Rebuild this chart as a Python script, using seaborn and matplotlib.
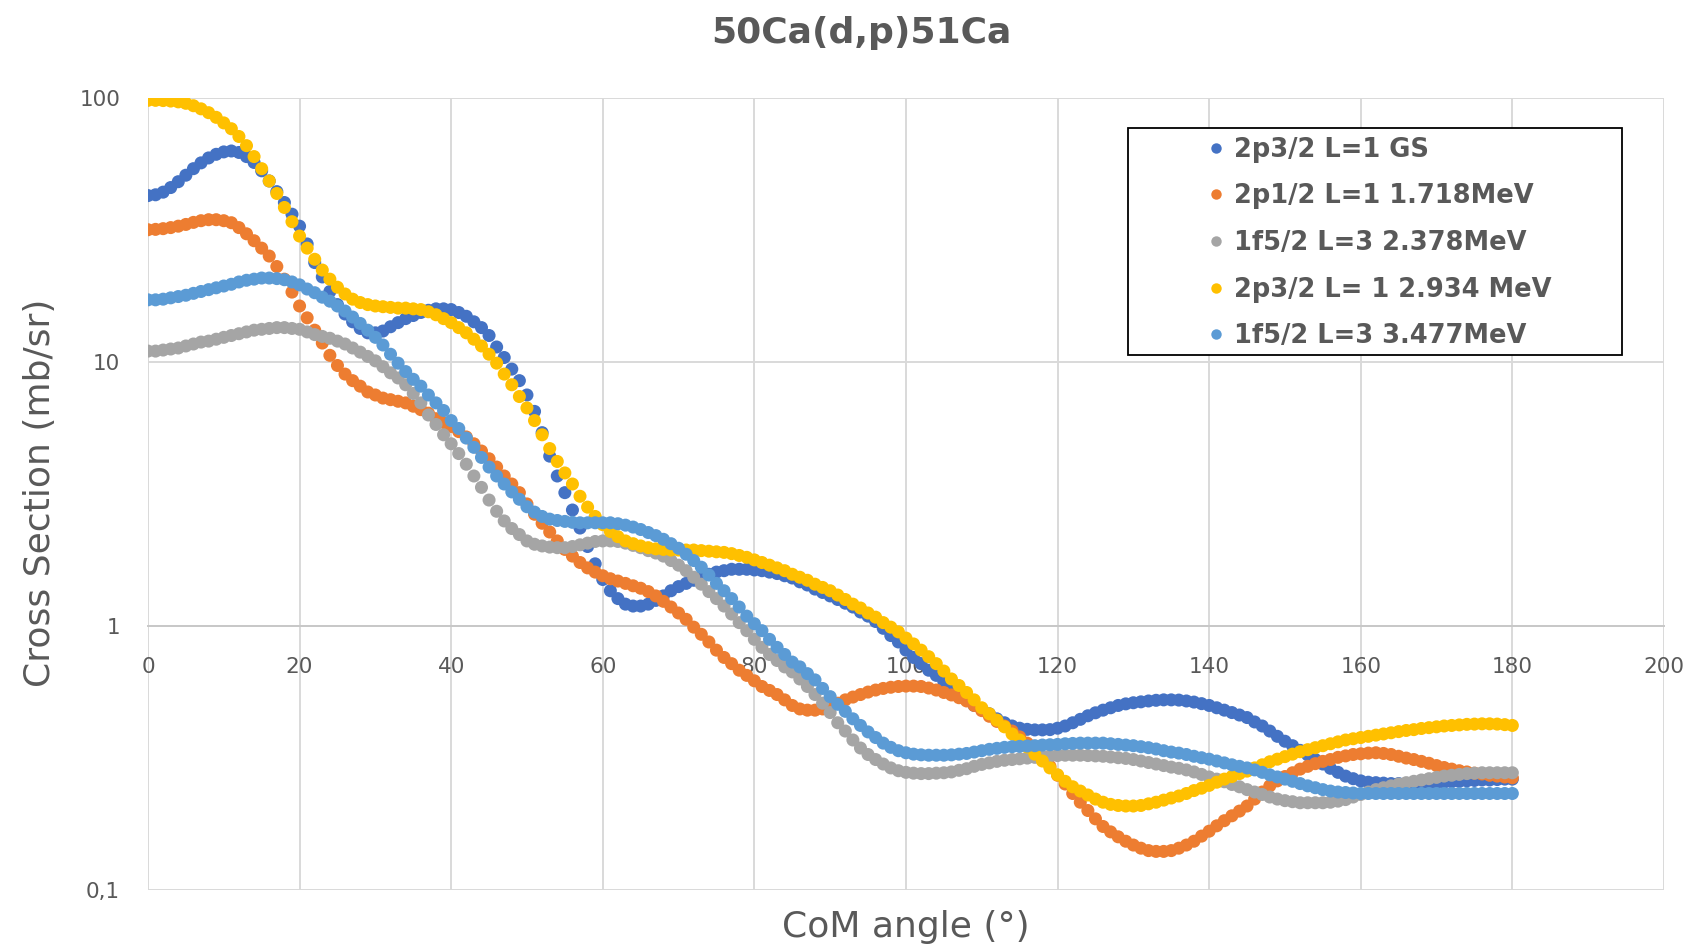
import matplotlib
matplotlib.use('Agg')

import numpy as np
import pandas as pd
import matplotlib.pyplot as plt
import seaborn as sns
from matplotlib.lines import Line2D
from matplotlib.patches import Rectangle
from matplotlib.ticker import FixedLocator, FixedFormatter, NullLocator


# CoM angle, one point per degree
angle = list(range(0, 181))

# 2p3/2 L=1 GS
gs_p32 = [
    42.7, 43.0, 44.0, 45.8, 48.2, 51.0, 54.0, 56.8, 59.3, 61.2,
    62.5, 63.0, 62.2, 60.0, 57.0, 53.0, 48.5, 44.2, 40.2, 36.3,
    32.7, 28.0, 23.8, 21.0, 18.5, 16.5, 15.2, 14.2, 13.4, 12.9,
    12.9, 13.1, 13.6, 14.1, 14.6, 15.0, 15.4, 15.7, 15.9, 15.9,
    15.8, 15.4, 14.9, 14.2, 13.5, 12.6, 11.4, 10.4, 9.4, 8.5,
    7.5, 6.5, 5.4, 4.4, 3.7, 3.2, 2.75, 2.35, 2.0, 1.72,
    1.5, 1.36, 1.27, 1.21, 1.19, 1.19, 1.21, 1.25, 1.30, 1.36,
    1.41, 1.45, 1.49, 1.53, 1.57, 1.60, 1.62, 1.64, 1.64, 1.64,
    1.63, 1.62, 1.60, 1.58, 1.55, 1.52, 1.47, 1.43, 1.38, 1.34,
    1.30, 1.26, 1.22, 1.18, 1.13, 1.09, 1.04, 0.98, 0.92, 0.87,
    0.81, 0.76, 0.72, 0.68, 0.65, 0.615, 0.585, 0.555, 0.525, 0.50,
    0.485, 0.465, 0.445, 0.43, 0.418, 0.41, 0.406, 0.404, 0.404, 0.405,
    0.41, 0.418, 0.43, 0.443, 0.457, 0.469, 0.48, 0.49, 0.50, 0.507,
    0.512, 0.516, 0.52, 0.523, 0.525, 0.525, 0.524, 0.52, 0.515, 0.508,
    0.50, 0.49, 0.48, 0.47, 0.46, 0.45, 0.433, 0.418, 0.40, 0.382,
    0.366, 0.352, 0.338, 0.325, 0.312, 0.30, 0.289, 0.279, 0.27, 0.264,
    0.259, 0.256, 0.255, 0.254, 0.253, 0.253, 0.253, 0.253, 0.254, 0.254,
    0.255, 0.256, 0.257, 0.258, 0.259, 0.26, 0.261, 0.261, 0.262, 0.263,
    0.263,
]

# 2p1/2 L=1 1.718MeV
p12_1718 = [
    31.7, 31.8, 32.0, 32.3, 32.7, 33.2, 33.8, 34.3, 34.6, 34.6,
    34.3, 33.7, 32.3, 30.6, 28.8, 27.0, 25.2, 23.0, 20.6, 18.4,
    16.3, 14.7, 13.2, 11.8, 10.6, 9.7, 9.0, 8.5, 8.1, 7.7,
    7.5, 7.3, 7.2, 7.1, 7.0, 6.8, 6.6, 6.4, 6.1, 5.9,
    5.7, 5.45, 5.2, 4.9, 4.6, 4.3, 4.0, 3.7, 3.45, 3.2,
    2.9, 2.65, 2.45, 2.27, 2.1, 1.95, 1.84, 1.74, 1.66, 1.6,
    1.55, 1.51, 1.48, 1.45, 1.42, 1.39, 1.35, 1.3, 1.24, 1.18,
    1.12, 1.06, 0.99, 0.93, 0.87, 0.81, 0.76, 0.72, 0.68, 0.65,
    0.62, 0.59, 0.57, 0.55, 0.525, 0.5, 0.485, 0.48, 0.48, 0.485,
    0.495, 0.51, 0.525, 0.538, 0.55, 0.562, 0.572, 0.58, 0.586, 0.59,
    0.592, 0.592, 0.59, 0.582, 0.572, 0.56, 0.548, 0.535, 0.52, 0.5,
    0.478, 0.455, 0.435, 0.418, 0.4, 0.38, 0.36, 0.34, 0.315, 0.294,
    0.272, 0.252, 0.232, 0.215, 0.2, 0.186, 0.174, 0.166, 0.159, 0.153,
    0.148, 0.144, 0.141, 0.14, 0.14, 0.141, 0.144, 0.148, 0.153, 0.16,
    0.167, 0.175, 0.183, 0.191, 0.199, 0.208, 0.221, 0.235, 0.248, 0.259,
    0.269, 0.278, 0.287, 0.294, 0.301, 0.307, 0.312, 0.318, 0.322, 0.326,
    0.328, 0.33, 0.331, 0.329, 0.326, 0.321, 0.316, 0.312, 0.307, 0.302,
    0.296, 0.291, 0.287, 0.283, 0.28, 0.277, 0.275, 0.272, 0.27, 0.268,
    0.266,
]

# 1f5/2 L=3 2.378MeV
f52_2378 = [
    11.0, 11.0, 11.1, 11.2, 11.3, 11.5, 11.7, 11.9, 12.0, 12.2,
    12.4, 12.6, 12.8, 13.0, 13.2, 13.3, 13.4, 13.5, 13.5, 13.4,
    13.3, 13.0, 12.7, 12.5, 12.3, 12.0, 11.7, 11.3, 10.9, 10.5,
    10.1, 9.6, 9.1, 8.7, 8.2, 7.6, 7.0, 6.3, 5.8, 5.3,
    4.9, 4.5, 4.1, 3.7, 3.35, 3.0, 2.72, 2.5, 2.34, 2.22,
    2.1, 2.04, 2.01, 1.99, 1.98, 1.98, 2.0, 2.03, 2.06, 2.09,
    2.1, 2.1, 2.09, 2.06, 2.02, 1.98, 1.93, 1.89, 1.84, 1.77,
    1.7, 1.62, 1.53, 1.44, 1.35, 1.27, 1.19, 1.11, 1.03, 0.96,
    0.89, 0.83, 0.78, 0.74, 0.7, 0.67, 0.63, 0.59, 0.55, 0.51,
    0.47, 0.43, 0.4, 0.37, 0.345, 0.326, 0.312, 0.3, 0.29, 0.283,
    0.279, 0.277, 0.276, 0.276, 0.277, 0.278, 0.28, 0.284, 0.288, 0.294,
    0.299, 0.303, 0.307, 0.31, 0.312, 0.314, 0.316, 0.318, 0.32, 0.322,
    0.323, 0.324, 0.324, 0.324, 0.323, 0.322, 0.321, 0.319, 0.317, 0.315,
    0.312, 0.308, 0.304, 0.3, 0.296, 0.292, 0.289, 0.285, 0.28, 0.274,
    0.268, 0.263, 0.257, 0.251, 0.246, 0.24, 0.235, 0.23, 0.225, 0.221,
    0.218, 0.216, 0.214, 0.214, 0.214, 0.214, 0.215, 0.217, 0.22, 0.225,
    0.23, 0.235, 0.24, 0.244, 0.248, 0.252, 0.255, 0.258, 0.261, 0.264,
    0.267, 0.27, 0.272, 0.274, 0.276, 0.277, 0.278, 0.278, 0.278, 0.278,
    0.278,
]

# 2p3/2 L= 1 2.934 MeV
p32_2934 = [
    98, 98, 97.8, 97.4, 96.7, 95.5, 93.5, 91, 88, 84.5,
    80.5, 76.5, 71.5, 66, 60, 54, 48.5, 43.5, 38.5, 34,
    30, 27, 24.5, 22.3, 20.6, 19.2, 18.1, 17.3, 16.8, 16.5,
    16.3, 16.2, 16.1, 16.0, 16.0, 15.9, 15.8, 15.5, 15.1, 14.6,
    14.1, 13.5, 12.9, 12.2, 11.5, 10.7, 9.9, 9.0, 8.2, 7.4,
    6.7, 6.0, 5.3, 4.7, 4.2, 3.8, 3.45, 3.1, 2.82, 2.6,
    2.42, 2.28, 2.18, 2.1, 2.05, 2.01, 1.98, 1.96, 1.95, 1.94,
    1.94, 1.94, 1.94, 1.93, 1.92, 1.91, 1.9, 1.88, 1.85, 1.82,
    1.78, 1.74, 1.7, 1.66, 1.62, 1.57, 1.53, 1.49, 1.44, 1.4,
    1.36, 1.31, 1.26, 1.21, 1.17, 1.12, 1.08, 1.03, 0.99, 0.95,
    0.9, 0.855, 0.81, 0.765, 0.72, 0.675, 0.63, 0.595, 0.56, 0.525,
    0.49, 0.465, 0.44, 0.415, 0.39, 0.37, 0.348, 0.327, 0.308, 0.29,
    0.273, 0.258, 0.246, 0.237, 0.229, 0.221, 0.215, 0.211, 0.209, 0.208,
    0.208, 0.209, 0.212, 0.215, 0.219, 0.223, 0.227, 0.232, 0.238, 0.243,
    0.249, 0.256, 0.263, 0.269, 0.276, 0.282, 0.29, 0.298, 0.306, 0.313,
    0.32, 0.327, 0.334, 0.34, 0.346, 0.352, 0.358, 0.364, 0.37, 0.374,
    0.378, 0.382, 0.386, 0.39, 0.394, 0.398, 0.402, 0.405, 0.409, 0.412,
    0.415, 0.418, 0.42, 0.422, 0.424, 0.425, 0.426, 0.426, 0.425, 0.423,
    0.42,
]

# 1f5/2 L=3 3.477MeV
f52_3477 = [
    17.2, 17.2, 17.3, 17.5, 17.7, 17.9, 18.2, 18.5, 18.8, 19.1,
    19.4, 19.7, 20.1, 20.4, 20.6, 20.8, 20.8, 20.7, 20.5, 20.1,
    19.6, 18.9, 18.3, 17.6, 17.0, 16.3, 15.6, 14.8, 14.0, 13.2,
    12.4, 11.6, 10.7, 9.9, 9.2, 8.6, 8.1, 7.5, 7.0, 6.55,
    6.0, 5.6, 5.15, 4.75, 4.35, 4.0, 3.7, 3.45, 3.22, 3.02,
    2.83, 2.7, 2.6, 2.54, 2.51, 2.49, 2.47, 2.46, 2.46, 2.46,
    2.46, 2.46, 2.44, 2.41, 2.37, 2.32, 2.26, 2.2, 2.13, 2.05,
    1.97, 1.87, 1.77, 1.67, 1.56, 1.45, 1.36, 1.27, 1.18, 1.09,
    1.02, 0.96, 0.89, 0.83, 0.78, 0.73, 0.7, 0.66, 0.625, 0.58,
    0.54, 0.505, 0.475, 0.445, 0.42, 0.397, 0.378, 0.36, 0.347, 0.337,
    0.331, 0.327, 0.325, 0.324, 0.324, 0.324, 0.325, 0.327, 0.329, 0.333,
    0.337, 0.341, 0.344, 0.347, 0.349, 0.35, 0.351, 0.352, 0.354, 0.355,
    0.356, 0.358, 0.359, 0.36, 0.36, 0.36, 0.36, 0.358, 0.356, 0.354,
    0.352, 0.349, 0.346, 0.342, 0.337, 0.333, 0.33, 0.326, 0.321, 0.317,
    0.313, 0.308, 0.303, 0.298, 0.294, 0.29, 0.285, 0.279, 0.273, 0.268,
    0.263, 0.258, 0.253, 0.248, 0.244, 0.24, 0.237, 0.235, 0.234, 0.233,
    0.232, 0.232, 0.232, 0.232, 0.232, 0.232, 0.232, 0.232, 0.232, 0.232,
    0.232, 0.232, 0.232, 0.232, 0.232, 0.232, 0.232, 0.232, 0.232, 0.232,
    0.232,
]

labels = ["2p3/2 L=1 GS", "2p1/2 L=1 1.718MeV", "1f5/2 L=3 2.378MeV",
          "2p3/2 L= 1 2.934 MeV", "1f5/2 L=3 3.477MeV"]
colors = ["#4472C4", "#ED7D31", "#A5A5A5", "#FFC000", "#5B9BD5"]

x_ticks = [0, 20, 40, 60, 80, 100, 120, 140, 160, 180, 200]
y_ticks = [0.1, 1, 10, 100]
y_tick_labels = ["0,1", "1", "10", "100"]

title = "50Ca(d,p)51Ca"
x_title = "CoM angle (°)"
y_title = "Cross Section (mb/sr)"

text_gray = "#595959"
grid_gray = "#D9D9D9"


# long table for seaborn, series kept in legend order (= drawing order)
series = [gs_p32, p12_1718, f52_2378, p32_2934, f52_3477]
frames = []
for lab, vals in zip(labels, series):
    frames.append(pd.DataFrame({"angle": angle, "xs": vals, "state": lab}))
df = pd.concat(frames, ignore_index=True)

sns.set_theme(style="white")
plt.rcParams['font.family'] = ['DejaVu Sans']

fig, ax = plt.subplots(figsize=(16.91, 9.48), dpi=100)
fig.subplots_adjust(left=0.0875, right=0.9840, top=0.8966, bottom=0.0612)

sns.scatterplot(data=df, x="angle", y="xs", hue="state", palette=colors,
                hue_order=labels, s=88, edgecolor="none", linewidth=0,
                legend=False, ax=ax, zorder=3)

ax.set_yscale("log")
ax.set_xlim(0, 200)
ax.set_ylim(0.1, 100)

ax.xaxis.set_major_locator(FixedLocator(x_ticks))
ax.yaxis.set_major_locator(FixedLocator(y_ticks))
ax.yaxis.set_major_formatter(FixedFormatter(y_tick_labels))
ax.yaxis.set_minor_locator(NullLocator())
ax.xaxis.set_minor_locator(NullLocator())

ax.grid(True, which="major", color=grid_gray, linewidth=1.4, zorder=0)
ax.set_axisbelow(True)

# Excel style: horizontal axis crosses at 1
for side in ["top", "right", "left"]:
    ax.spines[side].set_visible(False)
ax.spines["bottom"].set_position(("data", 1))
ax.spines["bottom"].set_color("#C8C8C8")
ax.spines["bottom"].set_linewidth(1.4)

ax.tick_params(axis="x", length=0, pad=22, labelsize=15.5, labelcolor=text_gray)
ax.tick_params(axis="y", length=0, pad=20, labelsize=15.5, labelcolor=text_gray)
ax.set_xlabel("")
ax.set_ylabel("")

# titles
fig.text(0.5092, 0.9546, title, ha="center", va="baseline", fontsize=26,
         fontweight="bold", color=text_gray)
fig.text(0.5358, 0.0116, x_title, ha="center", va="baseline", fontsize=26,
         color=text_gray)
fig.text(0.0237, 0.48, y_title, ha="center", va="center", rotation=90,
         fontsize=26, color=text_gray)

# legend in a black box
box = Rectangle((0.6464, 0.6755), 0.3259, 0.2866, transform=ax.transAxes,
                facecolor="white", edgecolor="black", linewidth=1.3, zorder=5)
ax.add_patch(box)

handles = [Line2D([], [], marker="o", linestyle="none", markersize=7.5,
                  markerfacecolor=c, markeredgecolor="none") for c in colors]
leg = ax.legend(handles, labels, loc="center left",
                bbox_to_anchor=(0.6992, 0.8169), frameon=False,
                prop={"weight": "bold", "size": 18.5}, labelcolor=text_gray,
                handlelength=0.6, handletextpad=0.4, labelspacing=0.8,
                borderpad=0, borderaxespad=0)
leg.set_zorder(6)

fig.savefig("out.png", dpi=100)
